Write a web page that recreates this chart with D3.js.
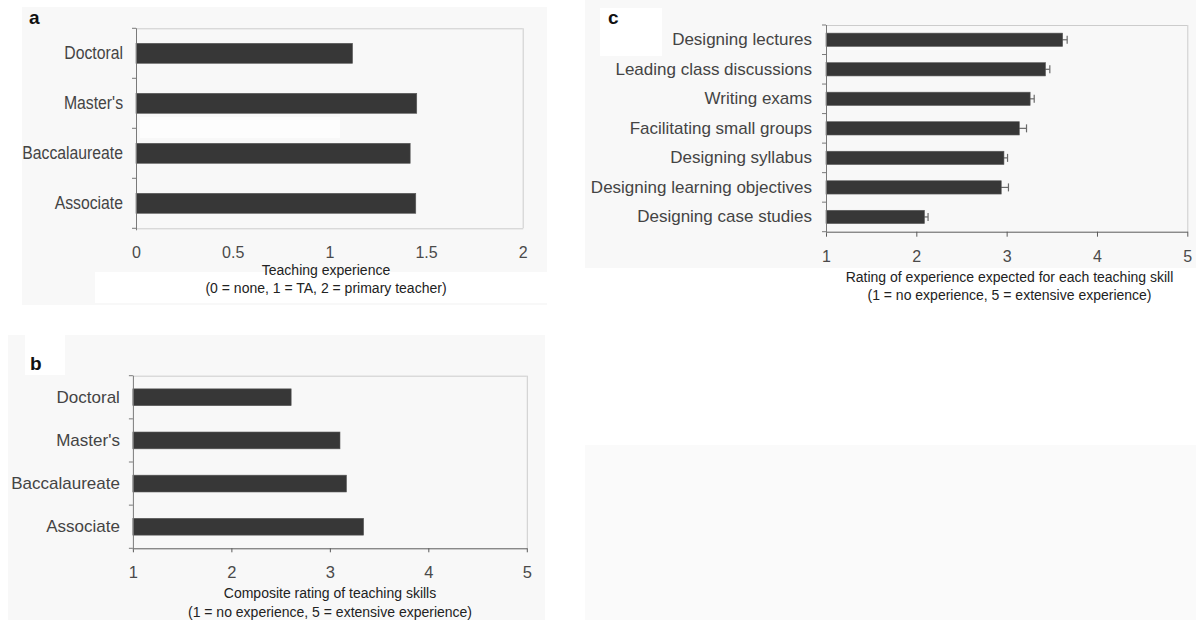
<!DOCTYPE html>
<html>
<head>
<meta charset="utf-8">
<script src="https://cdn.jsdelivr.net/npm/d3@7"></script>
<style>
  html, body { margin: 0; padding: 0; background: #ffffff; }
  svg { display: block; }
  text { font-family: "Liberation Sans", Arial, sans-serif; }
</style>
</head>
<body>
<svg id="fig" width="1196" height="620"></svg>
<script>
// ---- data ----
const degreeLevels = ["Doctoral", "Master's", "Baccalaureate", "Associate"];
const teachingExperience = [1.12, 1.452, 1.418, 1.447];
const compositeRating = [2.607, 3.103, 3.169, 3.343];

const teachingSkills = [
  "Designing lectures",
  "Leading class discussions",
  "Writing exams",
  "Facilitating small groups",
  "Designing syllabus",
  "Designing learning objectives",
  "Designing case studies"
];
const skillRating = [3.62, 3.43, 3.26, 3.14, 2.97, 2.94, 2.09];
const skillError = [0.05, 0.048, 0.045, 0.08, 0.04, 0.08, 0.04];

const experienceTicks = [0, 0.5, 1, 1.5, 2];
const ratingTicks = [1, 2, 3, 4, 5];

const titleA = ["Teaching experience", "(0 = none, 1 = TA, 2 = primary teacher)"];
const titleB = ["Composite rating of teaching skills", "(1 = no experience, 5 = extensive experience)"];
const titleC = ["Rating of experience expected for each teaching skill", "(1 = no experience, 5 = extensive experience)"];

// ---- drawing ----
const svg = d3.select("#fig");
const BAR = "#373737";

// paper tone
const paper = svg.append("g");
[
  [22, 7, 525, 298, "#f8f8f8"],
  [95, 272, 452, 31, "#ffffff"],
  [140, 117, 200, 21, "#fdfdfd"],
  [8, 335, 537, 285, "#f8f8f8"],
  [25, 335, 40, 40, "#ffffff"],
  [585, 0, 611, 268, "#f8f8f8"],
  [600, 8, 62, 48, "#ffffff"],
  [585, 445, 611, 175, "#fafafa"]
].forEach(([x, y, w, h, c]) =>
  paper.append("rect").attr("x", x).attr("y", y).attr("width", w).attr("height", h).attr("fill", c));

// squeeze a text element horizontally by a factor
function squeeze(sel, k) {
  if (k === 1) return;
  sel.each(function () {
    const w = this.getComputedTextLength();
    d3.select(this).attr("textLength", w * k).attr("lengthAdjust", "spacingAndGlyphs");
  });
}

function panel(opts) {
  const { x0, x1, y0, y1, domain, ticks, cats, values, errors, pad, labelSize, labelScale,
          tickSize, tickScale, bottomTick, tickOffset, bottomColor, title, titleX, titleY,
          letter, letterX, letterY, labelPad } = opts;
  const g = svg.append("g");
  const x = d3.scaleLinear().domain(domain).range([x0, x1]);
  const y = d3.scaleBand().domain(cats).range([y0, y1]).paddingInner(pad).paddingOuter(pad / 2);

  // frame
  g.append("line").attr("x1", x0).attr("x2", x1).attr("y1", y0 + 0.5).attr("y2", y0 + 0.5)
    .attr("stroke", "#cccccc").attr("stroke-width", 1);
  g.append("line").attr("x1", x1 + 0.5).attr("x2", x1 + 0.5).attr("y1", y0).attr("y2", y1)
    .attr("stroke", "#cccccc").attr("stroke-width", 1);

  // error bars sit beneath the bars so only the outer half shows
  if (errors) {
    const eg = g.append("g");
    cats.forEach((c, i) => {
      const cy = y(c) + y.bandwidth() / 2;
      const xa = x(values[i] - errors[i]), xb = x(values[i] + errors[i]);
      eg.append("line").attr("x1", xa).attr("x2", xb).attr("y1", cy).attr("y2", cy)
        .attr("stroke", "#6a6a6a").attr("stroke-width", 1.2);
      eg.append("line").attr("x1", xb).attr("x2", xb).attr("y1", cy - 4).attr("y2", cy + 4)
        .attr("stroke", "#6a6a6a").attr("stroke-width", 1.2);
    });
  }

  // bars
  g.append("g").selectAll("rect").data(cats).join("rect")
    .attr("x", x(domain[0]))
    .attr("y", d => y(d))
    .attr("width", (d, i) => x(values[i]) - x(domain[0]))
    .attr("height", y.bandwidth())
    .attr("fill", BAR)
    .attr("stroke", "#5a5a5a").attr("stroke-width", 0.6);

  // bottom axis
  const xAxis = d3.axisBottom(x).tickValues(ticks).tickSize(bottomTick)
    .tickPadding(tickOffset - bottomTick).tickSizeOuter(0).tickFormat(d3.format("~g"));
  const xa = g.append("g").attr("transform", `translate(0,${y1})`).call(xAxis);
  xa.select(".domain").attr("stroke", bottomColor);
  xa.selectAll(".tick line").attr("stroke", bottomColor);
  const tt = xa.selectAll(".tick text").attr("font-size", tickSize).attr("fill", "#4a4a4a")
    .attr("font-family", "'Liberation Sans', Arial, sans-serif");
  squeeze(tt, tickScale);

  // left axis: labels centred on bars, ticks on category boundaries
  const yAxis = d3.axisLeft(y).tickSize(0).tickPadding(labelPad);
  const ya = g.append("g").attr("transform", `translate(${x0},0)`).call(yAxis);
  ya.select(".domain").remove();
  const lt = ya.selectAll(".tick text").attr("font-size", labelSize).attr("fill", "#444")
    .attr("font-family", "'Liberation Sans', Arial, sans-serif");
  squeeze(lt, labelScale);
  const step = y.step();
  g.append("line").attr("x1", x0 + 0.5).attr("x2", x0 + 0.5).attr("y1", y0).attr("y2", y1 + 2)
    .attr("stroke", "#7a7a7a").attr("stroke-width", 1);
  g.append("g").selectAll("line").data(d3.range(cats.length + 1)).join("line")
    .attr("x1", x0 - 4).attr("x2", x0)
    .attr("y1", i => y0 + i * step).attr("y2", i => y0 + i * step)
    .attr("stroke", "#7a7a7a").attr("stroke-width", 1);

  // axis title
  g.append("g").selectAll("text").data(title).join("text")
    .attr("x", titleX).attr("y", (d, i) => titleY[i])
    .attr("text-anchor", "middle").attr("font-size", 14).attr("fill", "#222")
    .text(d => d);

  // panel letter
  g.append("text").attr("x", letterX).attr("y", letterY)
    .attr("font-size", 19).attr("font-weight", "bold").attr("fill", "#111")
    .text(letter);
}

panel({
  x0: 136, x1: 522.7, y0: 28.3, y1: 228.3,
  domain: [0, 2], ticks: experienceTicks,
  cats: degreeLevels, values: teachingExperience, pad: 0.6,
  labelSize: 17.5, labelScale: 0.9, labelPad: 13,
  tickSize: 16, tickScale: 1,
  bottomTick: 0, tickOffset: 18, bottomColor: "#cccccc",
  title: titleA, titleX: 326, titleY: [274.5, 292.5],
  letter: "a", letterX: 29, letterY: 24
});

panel({
  x0: 132.9, x1: 526.8, y0: 375.7, y1: 548.3,
  domain: [1, 5], ticks: ratingTicks,
  cats: degreeLevels, values: compositeRating, pad: 0.61,
  labelSize: 17, labelScale: 1, labelPad: 13,
  tickSize: 16.5, tickScale: 1,
  bottomTick: 4, tickOffset: 17.7, bottomColor: "#5a5a5a",
  title: titleB, titleX: 330, titleY: [598.3, 616.7],
  letter: "b", letterX: 30, letterY: 370
});

panel({
  x0: 826, x1: 1187.3, y0: 25, y1: 231.7,
  domain: [1, 5], ticks: ratingTicks,
  cats: teachingSkills, values: skillRating, errors: skillError, pad: 0.55,
  labelSize: 17, labelScale: 1, labelPad: 14,
  tickSize: 16, tickScale: 1,
  bottomTick: 5, tickOffset: 19.3, bottomColor: "#5a5a5a",
  title: titleC, titleX: 1009.5, titleY: [281.7, 300],
  letter: "c", letterX: 608, letterY: 24
});
</script>
</body>
</html>
